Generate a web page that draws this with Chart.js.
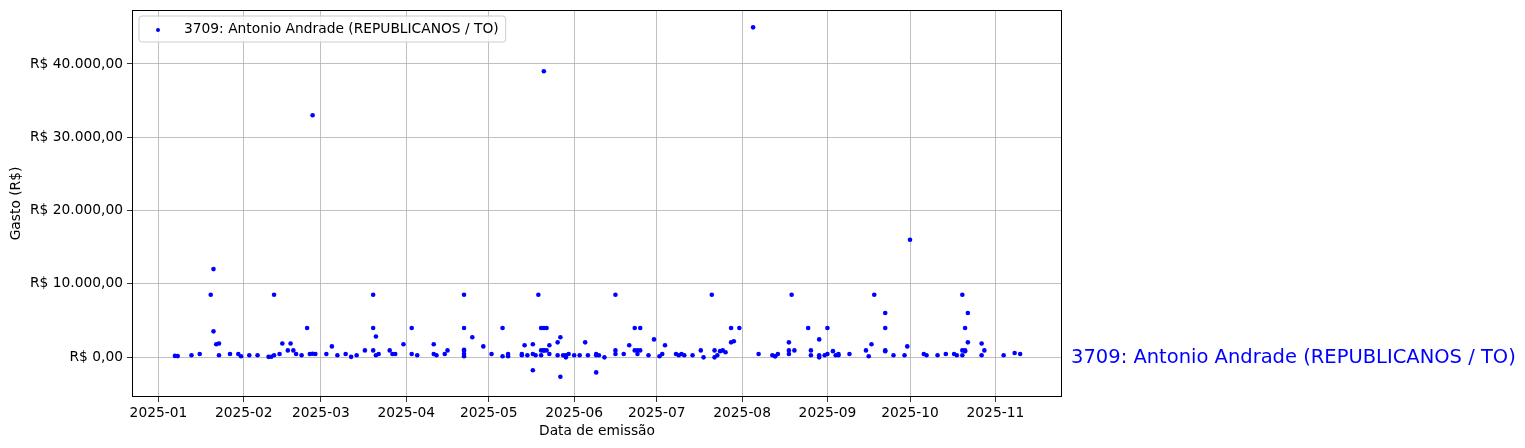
<!DOCTYPE html>
<html>
<head>
<meta charset="utf-8">
<script src="https://cdn.jsdelivr.net/npm/chart.js@4.4.1/dist/chart.umd.min.js"></script>
<style>
  html, body { margin: 0; padding: 0; background: #fff; }
  #wrap { width: 1525px; height: 448px; }
</style>
</head>
<body>
<div id="wrap"><canvas id="gastosChart" width="1525" height="448"></canvas></div>
<script>
// Série do deputado
const seriesLabel = '3709: Antonio Andrade (REPUBLICANOS / TO)';

const emissionDates = [
    '2025-01-07', '2025-01-08', '2025-01-13', '2025-01-16', '2025-01-20', '2025-01-21', '2025-01-21', '2025-01-22',
    '2025-01-23', '2025-01-23', '2025-01-27', '2025-01-30', '2025-01-31', '2025-02-03', '2025-02-06', '2025-02-10',
    '2025-02-11', '2025-02-12', '2025-02-12', '2025-02-14', '2025-02-15', '2025-02-17', '2025-02-18', '2025-02-19',
    '2025-02-20', '2025-02-22', '2025-02-24', '2025-02-25', '2025-02-26', '2025-02-26', '2025-02-27', '2025-03-03',
    '2025-03-05', '2025-03-07', '2025-03-10', '2025-03-12', '2025-03-14', '2025-03-17', '2025-03-20', '2025-03-20',
    '2025-03-20', '2025-03-21', '2025-03-21', '2025-03-22', '2025-03-26', '2025-03-27', '2025-03-28', '2025-03-31',
    '2025-04-03', '2025-04-03', '2025-04-05', '2025-04-11', '2025-04-11', '2025-04-12', '2025-04-15', '2025-04-16',
    '2025-04-22', '2025-04-22', '2025-04-22', '2025-04-22', '2025-04-22', '2025-04-22', '2025-04-25', '2025-04-29',
    '2025-05-02', '2025-05-06', '2025-05-06', '2025-05-08', '2025-05-08', '2025-05-13', '2025-05-13', '2025-05-14',
    '2025-05-15', '2025-05-17', '2025-05-17', '2025-05-17', '2025-05-18', '2025-05-19', '2025-05-20', '2025-05-20',
    '2025-05-20', '2025-05-21', '2025-05-21', '2025-05-21', '2025-05-22', '2025-05-21', '2025-05-22', '2025-05-23',
    '2025-05-23', '2025-05-26', '2025-05-26', '2025-05-27', '2025-05-27', '2025-05-28', '2025-05-29', '2025-05-29',
    '2025-05-30', '2025-06-01', '2025-06-03', '2025-06-05', '2025-06-06', '2025-06-09', '2025-06-09', '2025-06-09',
    '2025-06-10', '2025-06-12', '2025-06-16', '2025-06-16', '2025-06-16', '2025-06-19', '2025-06-21', '2025-06-23',
    '2025-06-23', '2025-06-24', '2025-06-24', '2025-06-25', '2025-06-25', '2025-06-28', '2025-06-30', '2025-07-02',
    '2025-07-03', '2025-07-04', '2025-07-08', '2025-07-09', '2025-07-10', '2025-07-11', '2025-07-14', '2025-07-17',
    '2025-07-18', '2025-07-21', '2025-07-22', '2025-07-22', '2025-07-23', '2025-07-24', '2025-07-25', '2025-07-26',
    '2025-07-28', '2025-07-28', '2025-07-29', '2025-07-31', '2025-08-05', '2025-08-07', '2025-08-12', '2025-08-13',
    '2025-08-13', '2025-08-14', '2025-08-18', '2025-08-18', '2025-08-18', '2025-08-19', '2025-08-20', '2025-08-25',
    '2025-08-26', '2025-08-26', '2025-08-29', '2025-08-29', '2025-08-29', '2025-08-31', '2025-09-01', '2025-09-01',
    '2025-09-03', '2025-09-04', '2025-09-05', '2025-09-05', '2025-09-09', '2025-09-15', '2025-09-16', '2025-09-17',
    '2025-09-18', '2025-09-22', '2025-09-22', '2025-09-22', '2025-09-22', '2025-09-25', '2025-09-29', '2025-09-30',
    '2025-10-01', '2025-10-06', '2025-10-07', '2025-10-11', '2025-10-14', '2025-10-17', '2025-10-18', '2025-10-20',
    '2025-10-20', '2025-10-20', '2025-10-21', '2025-10-21', '2025-10-21', '2025-10-22', '2025-10-22', '2025-10-27',
    '2025-10-27', '2025-10-28', '2025-11-04', '2025-11-08', '2025-11-10'
];

const amounts = [
    150, 120, 230, 400, 8500, 12000, 3500, 1750,
    1850, 230, 400, 400, 100, 230, 230, 20,
    30, 8500, 230, 400, 1850, 900, 1850, 900,
    400, 230, 3950, 400, 33000, 450, 400, 400,
    1450, 230, 400, 20, 230, 900, 8500, 3950,
    900, 2800, 230, 400, 900, 400, 400, 1750,
    3950, 400, 230, 1750, 400, 230, 400, 900,
    8500, 3950, 1000, 850, 400, 100, 2700, 1450,
    400, 3950, 100, 100, 400, 230, 400, 1600,
    230, 1750, 400, -1800, 230, 8500, 230, 900,
    3950, 39000, 900, 3950, 900, 900, 3950, 1600,
    400, 230, 2000, 2700, -2700, 230, -50, 230,
    400, 230, 230, 2000, 230, 400, 230, -2100,
    230, -50, 8500, 900, 400, 400, 1600, 3950,
    900, 900, 400, 3950, 900, 230, 2400, 100,
    400, 1600, 400, 230, 400, 230, 230, 900,
    -50, 8500, 900, -50, 230, 800, 900, 650,
    3950, 2000, 2150, 3950, 45000, 400, 230, 100,
    100, 400, 2000, 900, 400, 8500, 900, 3950,
    900, 230, 2400, -50, 230, 230, 400, 3950,
    800, 230, 230, 400, 400, 900, 100, 1750,
    8500, 6000, 3950, 900, 800, 230, 230, 1450,
    16000, 400, 230, 230, 400, 400, 230, 8500,
    900, 230, 900, 800, 3950, 6000, 2000, 1850,
    230, 900, 230, 550, 400
];

const monthTicks = ['2025-01', '2025-02', '2025-03', '2025-04', '2025-05', '2025-06',
    '2025-07', '2025-08', '2025-09', '2025-10', '2025-11'];
const valueTicks = [0, 10000, 20000, 30000, 40000];

const DAY = 86400000;

function toTime(s) {
    const p = s.split('-').map(Number);
    return Date.UTC(p[0], p[1] - 1, p[2] || 1);
}

// R$ 40.000,00
function formatBRL(v) {
    const neg = v < 0;
    const parts = Math.abs(v).toFixed(2).split('.');
    const intPart = parts[0].replace(/\B(?=(\d{3})+(?!\d))/g, '.');
    return 'R$ ' + (neg ? '-' : '') + intPart + ',' + parts[1];
}

const FONT = '"DejaVu Sans", sans-serif';
const FONT_SIZE = 13.8;
const points = emissionDates.map((d, i) => ({ x: toTime(d), y: amounts[i] }));
const origin = toTime('2025-01-01');

// frame + legend box + side label
const decorPlugin = {
    id: 'decor',
    afterDraw(chart) {
        const ctx = chart.ctx;
        const a = chart.chartArea;
        ctx.save();
        ctx.strokeStyle = '#000';
        ctx.lineWidth = 1;
        ctx.strokeRect(a.left + 0.5, a.top + 0.5, a.right - a.left - 1, a.bottom - a.top - 1);

        // legend
        ctx.font = FONT_SIZE + 'px ' + FONT;
        const tw = ctx.measureText(seriesLabel).width;
        const bx = a.left + 7, by = a.top + 6, bw = tw + 52, bh = 26, r = 3;
        ctx.beginPath();
        ctx.moveTo(bx + r, by);
        ctx.arcTo(bx + bw, by, bx + bw, by + bh, r);
        ctx.arcTo(bx + bw, by + bh, bx, by + bh, r);
        ctx.arcTo(bx, by + bh, bx, by, r);
        ctx.arcTo(bx, by, bx + bw, by, r);
        ctx.closePath();
        ctx.fillStyle = 'rgba(255,255,255,0.8)';
        ctx.fill();
        ctx.strokeStyle = '#cccccc';
        ctx.stroke();
        ctx.fillStyle = '#0000ff';
        ctx.beginPath();
        ctx.arc(bx + 19, by + 14, 2, 0, Math.PI * 2);
        ctx.fill();
        ctx.fillStyle = '#000';
        ctx.textBaseline = 'middle';
        ctx.fillText(seriesLabel, bx + 45, by + 13);

        // label at the right, on the zero line
        const y0 = chart.scales.y.getPixelForValue(0);
        ctx.font = '19.5px ' + FONT;
        ctx.fillStyle = '#0000ff';
        ctx.fillText(seriesLabel, a.right + 9, y0 + 1);
        ctx.restore();
    }
};

const ctx = document.getElementById('gastosChart').getContext('2d');
new Chart(ctx, {
    type: 'scatter',
    data: {
        datasets: [{
            label: seriesLabel,
            data: points,
            backgroundColor: '#0000ff',
            borderWidth: 0,
            pointRadius: 2.3,
            pointHoverRadius: 2.3
        }]
    },
    options: {
        responsive: false,
        animation: false,
        devicePixelRatio: 1,
        layout: { padding: { top: 10, right: 463, left: 0, bottom: 0 } },
        plugins: {
            legend: { display: false },
            tooltip: { enabled: false }
        },
        scales: {
            x: {
                type: 'linear',
                min: origin - 9.6 * DAY,
                max: origin + 328.2 * DAY,
                afterBuildTicks: scale => {
                    scale.ticks = monthTicks.map(m => ({ value: toTime(m) }));
                },
                afterFit: scale => {
                    scale.height = 51;
                    scale.paddingLeft = 0;
                    scale.paddingRight = 0;
                },
                ticks: {
                    autoSkip: false,
                    maxRotation: 0,
                    padding: 3,
                    color: '#000',
                    font: { family: FONT, size: FONT_SIZE },
                    callback: (value, index) => monthTicks[index]
                },
                grid: { color: '#b0b0b0', lineWidth: 0.8, tickColor: '#000', tickLength: 5 },
                border: { display: false },
                title: {
                    display: true,
                    text: 'Data de emissão',
                    color: '#000',
                    font: { family: FONT, size: FONT_SIZE },
                    padding: { top: 0, bottom: 8 }
                }
            },
            y: {
                min: -5460,
                max: 47370,
                afterBuildTicks: scale => {
                    scale.ticks = valueTicks.map(v => ({ value: v }));
                },
                afterFit: scale => {
                    scale.width = 132;
                    scale.paddingTop = 0;
                    scale.paddingBottom = 0;
                },
                ticks: {
                    padding: 4,
                    color: '#000',
                    font: { family: FONT, size: FONT_SIZE },
                    callback: value => formatBRL(value)
                },
                grid: { color: '#b0b0b0', lineWidth: 0.8, tickColor: '#000', tickLength: 5 },
                border: { display: false },
                title: {
                    display: true,
                    text: 'Gasto (R$)',
                    color: '#000',
                    font: { family: FONT, size: FONT_SIZE },
                    padding: { top: 8, bottom: 0 }
                }
            }
        }
    },
    plugins: [decorPlugin]
});
</script>
</body>
</html>
